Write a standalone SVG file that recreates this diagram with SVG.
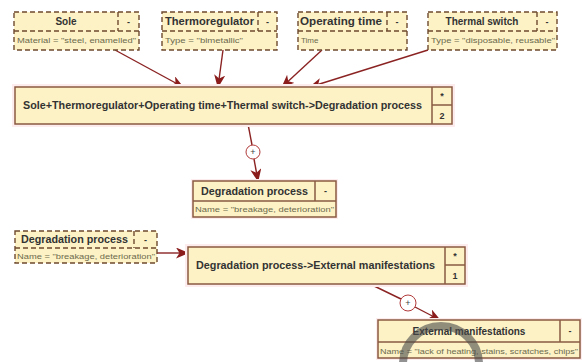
<svg xmlns="http://www.w3.org/2000/svg" width="582" height="362" viewBox="0 0 582 362">
<defs>
<style>
.bg{fill:#ffffff}
.fill{fill:#fcf2c6}
.glow{fill:#fcecee}
.dash{fill:none;stroke:#6e4a2e;stroke-width:1.4;stroke-dasharray:5 3}
.solid{fill:none;stroke:#8a5a40;stroke-width:1.5}
.hd{font-family:"Liberation Sans",Arial,sans-serif;font-size:10px;font-weight:bold;fill:#333333}
.at{font-family:"Liberation Sans",Arial,sans-serif;font-size:8px;fill:#6d6a4c}
.sm{font-family:"Liberation Sans",Arial,sans-serif;font-size:9px;font-weight:bold;fill:#333333;text-anchor:middle}
.con{fill:none;stroke:#8b2323;stroke-width:1.4}
.circ{fill:#ffffff;stroke:#b23a3a;stroke-width:1}
.plus{font-family:"Liberation Sans",Arial,sans-serif;font-size:9px;fill:#444444;text-anchor:middle}
</style>
<marker id="ah" viewBox="0 0 13 11" refX="12" refY="5.5" markerWidth="13" markerHeight="11" markerUnits="userSpaceOnUse" orient="auto">
<path d="M0,0 L13,5.5 L0,11 L3.5,5.5 z" fill="#8b1c1c"/>
</marker>
</defs>
<rect class="bg" x="0" y="0" width="582" height="362"/>

<g id="connectors">
<line class="con" x1="115" y1="50" x2="183" y2="87" marker-end="url(#ah)"/>
<line class="con" x1="223" y1="50" x2="218" y2="87" marker-end="url(#ah)"/>
<line class="con" x1="322" y1="50" x2="282" y2="87" marker-end="url(#ah)"/>
<line class="con" x1="428" y1="50" x2="310" y2="87" marker-end="url(#ah)"/>
<line class="con" x1="248" y1="124" x2="252" y2="145"/>
<line class="con" x1="254" y1="159" x2="258" y2="181" marker-end="url(#ah)"/>
<circle class="circ" cx="253" cy="152" r="7"/>
<text class="plus" x="253" y="155">+</text>
<line class="con" x1="157" y1="253" x2="188" y2="253" marker-end="url(#ah)"/>
<line class="con" x1="370" y1="284" x2="401" y2="299"/>
<line class="con" x1="415" y1="307" x2="440" y2="320" marker-end="url(#ah)"/>
<circle class="circ" cx="408" cy="303" r="8"/>
<text class="plus" x="408" y="306">+</text>
</g>

<g id="sole">
<rect class="fill" x="14" y="12" width="125" height="38"/>
<rect class="dash" x="14" y="12" width="125" height="38"/>
<line class="dash" x1="14" y1="31" x2="139" y2="31"/>
<line class="dash" x1="118" y1="12" x2="118" y2="31"/>
<text class="hd" x="66" y="25" text-anchor="middle">Sole</text>
<text class="sm" x="128.5" y="25">-</text>
<text class="at" x="17" y="43" textLength="119" lengthAdjust="spacingAndGlyphs">Material = "steel, enamelled"</text>
</g>

<g id="thermoregulator">
<rect class="fill" x="162" y="12" width="115" height="38"/>
<rect class="dash" x="162" y="12" width="115" height="38"/>
<line class="dash" x1="162" y1="31" x2="277" y2="31"/>
<line class="dash" x1="258" y1="12" x2="258" y2="31"/>
<text class="hd" x="165" y="25" textLength="89" lengthAdjust="spacingAndGlyphs">Thermoregulator</text>
<text class="sm" x="267.5" y="25">-</text>
<text class="at" x="165" y="43" textLength="78" lengthAdjust="spacingAndGlyphs">Type = "bimetallic"</text>
</g>

<g id="operating-time">
<rect class="fill" x="298" y="12" width="109" height="38"/>
<rect class="dash" x="298" y="12" width="109" height="38"/>
<line class="dash" x1="298" y1="31" x2="407" y2="31"/>
<line class="dash" x1="387" y1="12" x2="387" y2="31"/>
<text class="hd" x="300" y="25" textLength="82" lengthAdjust="spacingAndGlyphs">Operating time</text>
<text class="sm" x="397" y="25">-</text>
<text class="at" x="301" y="43">Time</text>
</g>

<g id="thermal-switch">
<rect class="fill" x="428" y="12" width="129" height="38"/>
<rect class="dash" x="428" y="12" width="129" height="38"/>
<line class="dash" x1="428" y1="31" x2="557" y2="31"/>
<line class="dash" x1="537" y1="12" x2="537" y2="31"/>
<text class="hd" x="482" y="25" text-anchor="middle">Thermal switch</text>
<text class="sm" x="547" y="25">-</text>
<text class="at" x="431" y="43" textLength="124" lengthAdjust="spacingAndGlyphs">Type = "disposable, reusable"</text>
</g>

<g id="process1">
<rect class="glow" x="12" y="84" width="443" height="43"/>
<rect class="fill" x="15" y="87" width="437" height="37"/>
<rect class="solid" x="15" y="87" width="437" height="37"/>
<line class="solid" x1="432" y1="87" x2="432" y2="124"/>
<line class="solid" x1="432" y1="105" x2="452" y2="105"/>
<text class="hd" x="23" y="109" textLength="399" lengthAdjust="spacingAndGlyphs">Sole+Thermoregulator+Operating time+Thermal switch-&gt;Degradation process</text>
<text class="sm" x="442" y="99">*</text>
<text class="sm" x="442" y="119">2</text>
</g>

<g id="degradation-process">
<rect class="glow" x="191" y="179" width="147" height="40"/>
<rect class="fill" x="193" y="181" width="143" height="36"/>
<rect class="solid" x="193" y="181" width="143" height="36"/>
<line class="solid" x1="193" y1="201" x2="336" y2="201"/>
<line class="solid" x1="315" y1="181" x2="315" y2="201"/>
<text class="hd" x="201" y="195" textLength="107" lengthAdjust="spacingAndGlyphs">Degradation process</text>
<text class="sm" x="325.5" y="194">-</text>
<text class="at" x="195" y="212" textLength="139" lengthAdjust="spacingAndGlyphs">Name = "breakage, deterioration"</text>
</g>

<g id="degradation-process-input">
<rect class="fill" x="15" y="231" width="142" height="32"/>
<rect class="dash" x="15" y="231" width="142" height="32"/>
<line class="dash" x1="15" y1="248" x2="157" y2="248"/>
<line class="dash" x1="134" y1="231" x2="134" y2="248"/>
<text class="hd" x="21" y="243" textLength="107" lengthAdjust="spacingAndGlyphs">Degradation process</text>
<text class="sm" x="145.5" y="243">-</text>
<text class="at" x="17" y="259" textLength="138" lengthAdjust="spacingAndGlyphs">Name = "breakage, deterioration"</text>
</g>

<g id="process2">
<rect class="glow" x="185" y="244" width="283" height="43"/>
<rect class="fill" x="188" y="247" width="277" height="37"/>
<rect class="solid" x="188" y="247" width="277" height="37"/>
<line class="solid" x1="445" y1="247" x2="445" y2="284"/>
<line class="solid" x1="445" y1="265" x2="465" y2="265"/>
<text class="hd" x="196" y="269" textLength="239" lengthAdjust="spacingAndGlyphs">Degradation process-&gt;External manifestations</text>
<text class="sm" x="455" y="259">*</text>
<text class="sm" x="455" y="279">1</text>
</g>

<g id="external-manifestations">
<rect class="glow" x="376" y="318" width="206" height="42"/>
<rect class="fill" x="378" y="320" width="202" height="38"/>
<rect class="solid" x="378" y="320" width="202" height="38"/>
<line class="solid" x1="378" y1="342" x2="580" y2="342"/>
<line class="solid" x1="560" y1="320" x2="560" y2="342"/>
<text class="hd" x="469" y="335" text-anchor="middle">External manifestations</text>
<text class="sm" x="570" y="334">-</text>
<text class="at" x="380" y="354" textLength="198" lengthAdjust="spacingAndGlyphs">Name = "lack of heating, stains, scratches, chips"</text>
</g>

<path d="M403,364 A38,38 0 0 1 479,364" fill="none" stroke="#4a4a4a" stroke-width="8" stroke-opacity="0.6"/>
</svg>
